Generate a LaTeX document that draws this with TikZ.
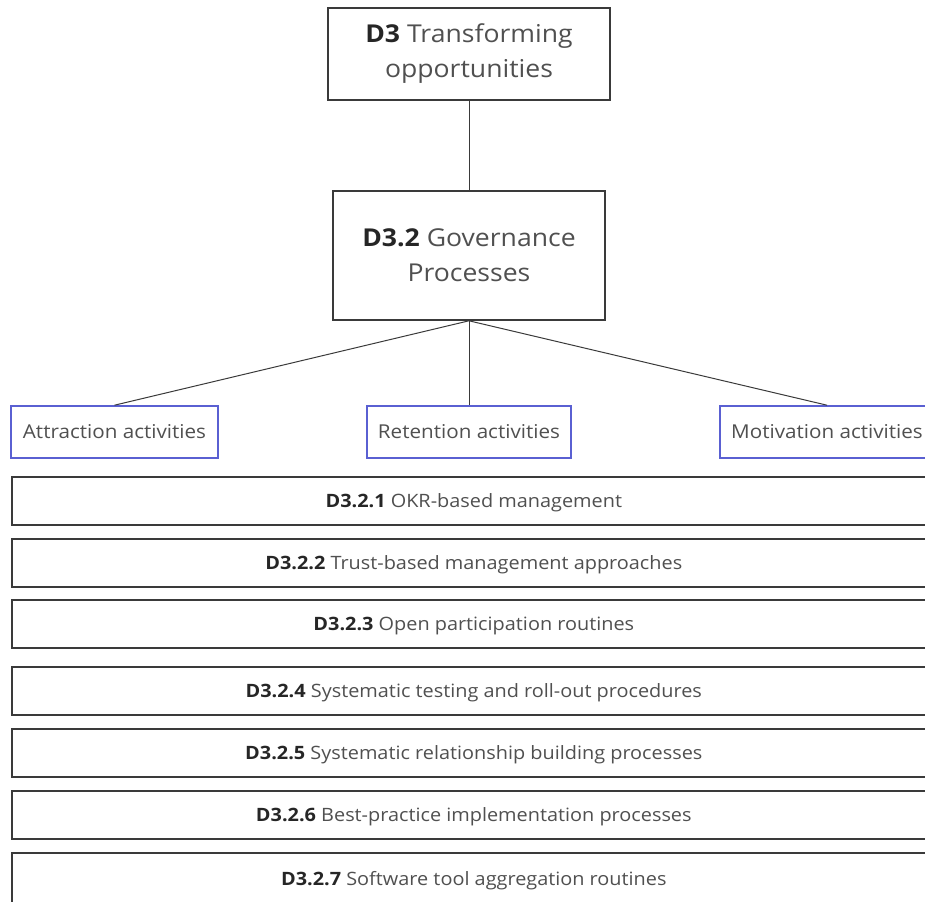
\documentclass[tikz,border=0pt]{standalone}
\usepackage{fontspec}
\setmainfont{Open Sans}[FakeStretch=1.08]
\usepackage{xcolor}
\usetikzlibrary{positioning}
\definecolor{boxline}{HTML}{3A3A3A}
\definecolor{txtgray}{HTML}{505050}
\definecolor{actblue}{HTML}{5A60D2}
\newcommand{\dnum}[1]{\textbf{\color{black!85}#1}}

\begin{document}
\begin{tikzpicture}[x=1pt,y=-1pt,
    headbox/.style={draw=boxline, line width=1.6pt, fill=white, text=txtgray, align=center,
        font=\fontsize{24.6}{35}\selectfont, inner sep=0pt},
    actbox/.style={draw=actblue, line width=1.6pt, fill=white, text=txtgray,
        font=\fontsize{19.1}{22}\selectfont, minimum height=52, inner sep=0pt},
    itembox/.style={draw=boxline, line width=1.6pt, fill=white, text=txtgray,
        font=\fontsize{18.4}{21}\selectfont, minimum width=924, minimum height=48,
        text height=16pt, text depth=4pt, inner sep=0pt, anchor=west},
    link/.style={draw=boxline, line width=1pt}]
    \clip (0,0) rectangle (925,901);
    \useasboundingbox (0,0) rectangle (925,901);

    % top of the tree
    \node[headbox, minimum width=282, minimum height=92] (d3) at (469,54)
        {\dnum{D3} Transforming\\opportunities};
    \node[headbox, minimum width=272, minimum height=129] (d32) at (469,255.5)
        {\dnum{D3.2} Governance\\Processes};
    \draw[link] (d3.south) -- (d32.north);

    % activity boxes
    \node[actbox, minimum width=207] (attr) at (114.5,432) {Attraction activities};
    \node[actbox, minimum width=204] (ret) at (469,432) {Retention activities};
    \node[actbox, minimum width=214] (mot) at (827,432) {Motivation activities};
    \draw[link] (d32.south) -- (attr.north);
    \draw[link] (d32.south) -- (ret.north);
    \draw[link] (d32.south) -- (mot.north);

    % sub-dimensions
    \node[itembox] (d321) at (11,501) {\dnum{D3.2.1} OKR-based management};
    \node[itembox] (d322) at (11,563) {\dnum{D3.2.2} Trust-based management approaches};
    \node[itembox] (d323) at (11,624) {\dnum{D3.2.3} Open participation routines};
    \node[itembox] (d324) at (11,691) {\dnum{D3.2.4} Systematic testing and roll-out procedures};
    \node[itembox] (d325) at (11,753) {\dnum{D3.2.5} Systematic relationship building processes};
    \node[itembox] (d326) at (11,815) {\dnum{D3.2.6} Best-practice implementation processes};
    \node[itembox, minimum height=64, text depth=14.8pt] (d327) at (11,885) {\dnum{D3.2.7} Software tool aggregation routines};
\end{tikzpicture}
\end{document}
